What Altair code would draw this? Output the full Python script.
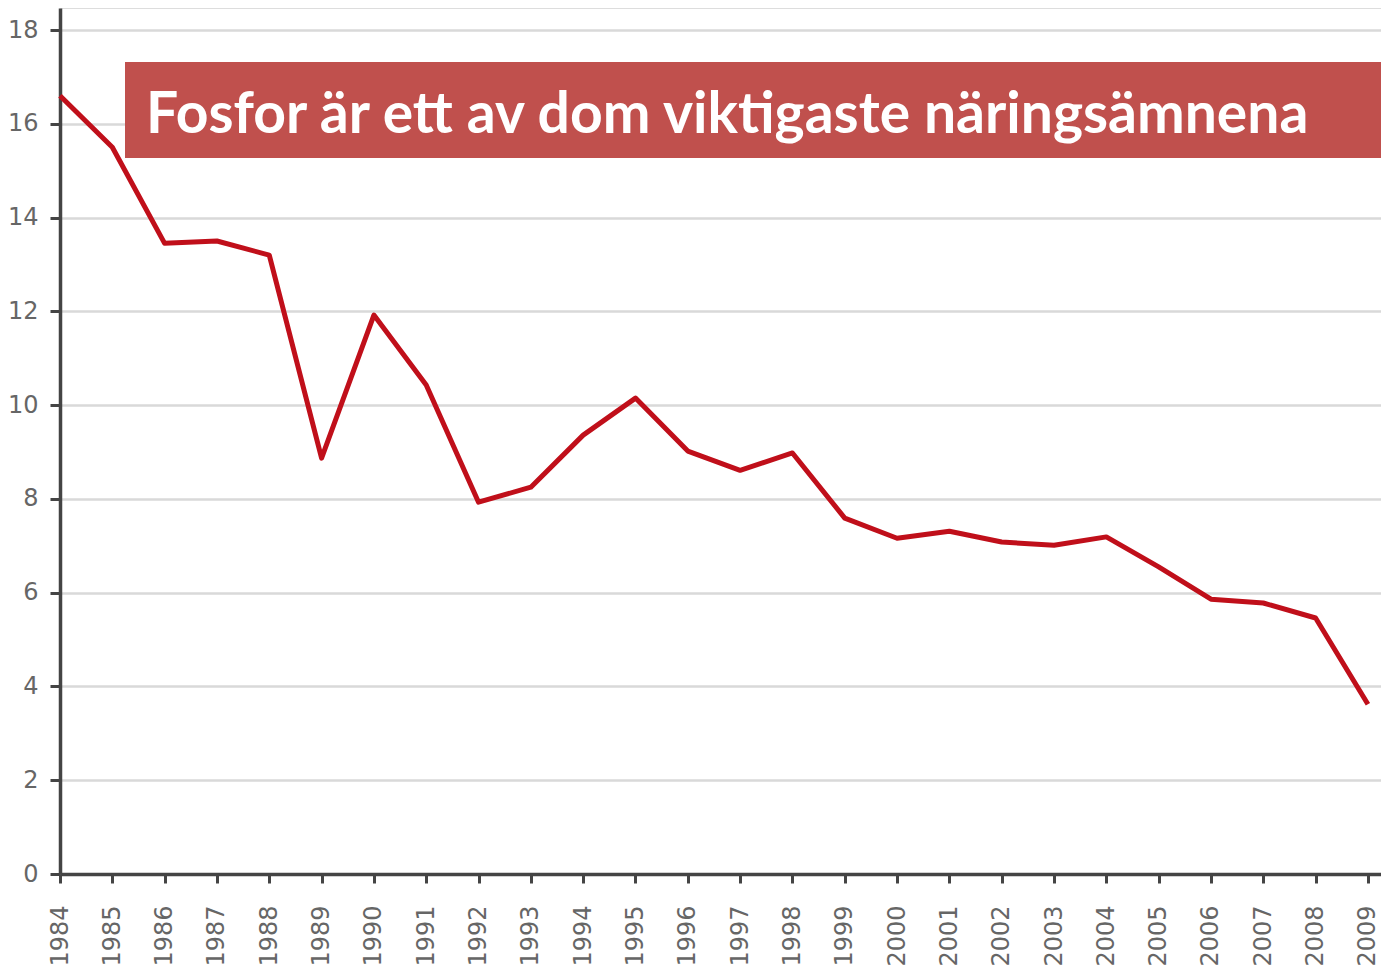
import altair as alt
import pandas as pd

years = list(range(1984, 2010))
values = [16.6, 15.5, 13.45, 13.5, 13.2, 8.87, 11.92, 10.43, 7.93, 8.25,
          9.36, 10.15, 9.02, 8.61, 8.98, 7.59, 7.16, 7.31, 7.08, 7.01,
          7.19, 6.55, 5.86, 5.78, 5.46, 3.62]
y_ticks = [0, 2, 4, 6, 8, 10, 12, 14, 16, 18]
title_text = "Fosfor är ett av dom viktigaste näringsämnena"

df = pd.DataFrame({"year": years, "value": values})

W, H = 1321, 866

x_scale = alt.Scale(domain=[1984, 2009.25], nice=False, zero=False)
y_scale = alt.Scale(domain=[0, 18.47], nice=False)

line = alt.Chart(df).mark_line(color="#c00f1a", strokeWidth=5, strokeJoin="round").encode(
    x=alt.X("year:Q", scale=x_scale, title=None,
            axis=alt.Axis(values=years, format="d", labelAngle=270, labelAlign="right",
                          labelBaseline="middle", labelPadding=22, labelFontSize=24,
                          labelColor="#666666", labelFont="DejaVu Sans",
                          tickSize=9, tickWidth=3, tickColor="#444444",
                          domainColor="#444444", domainWidth=3.5, grid=False,
                          labelOverlap=False, labelFlush=False)),
    y=alt.Y("value:Q", scale=y_scale, title=None,
            axis=alt.Axis(values=y_ticks, labelFontSize=24, labelColor="#666666",
                          labelFont="DejaVu Sans", labelPadding=12,
                          tickSize=10, tickWidth=3, tickColor="#444444",
                          domainColor="#444444", domainWidth=3.5,
                          grid=True, gridColor="#d9d9d9", gridWidth=2.5,
                          labelFlush=False)),
)

box = alt.Chart(pd.DataFrame({"t": [title_text]})).mark_rect(color="#c0504d").encode(
    x=alt.value(65), x2=alt.value(1321), y=alt.value(54), y2=alt.value(150)
)
txt = alt.Chart(pd.DataFrame({"t": [title_text]})).mark_text(
    color="white", font="Lato", fontWeight="bold", fontSize=57,
    align="left", baseline="alphabetic"
).encode(x=alt.value(86), y=alt.value(125), text="t:N")

chart = alt.layer(line, box, txt).properties(
    width=W, height=H,
    autosize=alt.AutoSizeParams(type="none"),
    padding={"left": 52, "top": 0, "right": 0, "bottom": 94},
).configure_view(stroke=None).configure(background="white")

chart.save("out.html", embed_options={"renderer": "svg", "actions": False})
